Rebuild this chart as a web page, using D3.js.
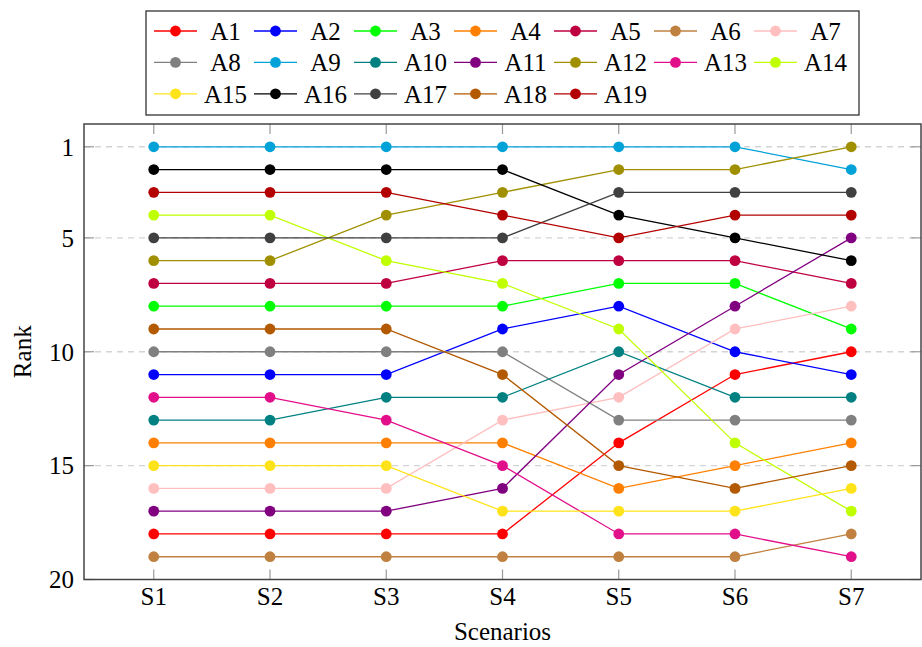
<!DOCTYPE html>
<html>
  <script src="https://d3js.org/d3.v7.min.js" type="text/JavaScript"></script>
  <style>
    body { margin: 0; background: #fff; }
  </style>
  <body>
    <svg></svg>
    <script>
var scenarios = ['S1', 'S2', 'S3', 'S4', 'S5', 'S6', 'S7'];
var names = ['A1', 'A2', 'A3', 'A4', 'A5', 'A6', 'A7', 'A8', 'A9', 'A10',
  'A11', 'A12', 'A13', 'A14', 'A15', 'A16', 'A17', 'A18', 'A19'];
// rank of each series in S1..S7
var ranks = [
  [18, 18, 18, 18, 14, 11, 10],
  [11, 11, 11, 9, 8, 10, 11],
  [8, 8, 8, 8, 7, 7, 9],
  [14, 14, 14, 14, 16, 15, 14],
  [7, 7, 7, 6, 6, 6, 7],
  [19, 19, 19, 19, 19, 19, 18],
  [16, 16, 16, 13, 12, 9, 8],
  [10, 10, 10, 10, 13, 13, 13],
  [1, 1, 1, 1, 1, 1, 2],
  [13, 13, 12, 12, 10, 12, 12],
  [17, 17, 17, 16, 11, 8, 5],
  [6, 6, 4, 3, 2, 2, 1],
  [12, 12, 13, 15, 18, 18, 19],
  [4, 4, 6, 7, 9, 14, 17],
  [15, 15, 15, 17, 17, 17, 16],
  [2, 2, 2, 2, 4, 5, 6],
  [5, 5, 5, 5, 3, 3, 3],
  [9, 9, 9, 11, 15, 16, 15],
  [3, 3, 3, 4, 5, 4, 4]
];
var yTicks = [1, 5, 10, 15, 20];

var colors = ['#ff0000', '#0000ff', '#00ff00', '#ff8000', '#bf0040', '#bf8040', '#ffbfbf',
  '#808080', '#00a2d8', '#008080', '#800080', '#a09000', '#e20f8a', '#bfff00',
  '#ffe31a', '#000000', '#404040', '#b35900', '#b30000'];

var W = 922, H = 647;
// plot box (note: "top" is reserved on window, so use pTop etc.)
var pLeft = 84, pRight = 921, pTop = 124, pBottom = 579.5;

var svg = d3.select('svg')
  .attr('width', W).attr('height', H)
  .attr('font-family', "'Liberation Serif', 'Times New Roman', serif");

var x = d3.scalePoint().domain(scenarios).range([pLeft, pRight]).padding(0.6);
var y = d3.scaleLinear().domain([0, 20]).range([pTop, pBottom]);

// grid
svg.append('g')
  .selectAll('line')
  .data(yTicks.filter(d => d < 20))
  .enter()
  .append('line')
    .attr('x1', pLeft).attr('x2', pRight)
    .attr('y1', d => y(d)).attr('y2', d => y(d))
    .style('stroke', '#d4d4d4')
    .style('stroke-width', 1.4)
    .style('stroke-dasharray', '6,5');

// inner ticks
var tickG = svg.append('g').style('stroke', '#9a9a9a').style('stroke-width', 1.2);
scenarios.forEach(s => {
  tickG.append('line').attr('x1', x(s)).attr('x2', x(s)).attr('y1', pTop).attr('y2', pTop + 10);
  tickG.append('line').attr('x1', x(s)).attr('x2', x(s)).attr('y1', pBottom).attr('y2', pBottom - 10);
});
yTicks.forEach(t => {
  tickG.append('line').attr('x1', pLeft).attr('x2', pLeft + 10).attr('y1', y(t)).attr('y2', y(t));
  tickG.append('line').attr('x1', pRight).attr('x2', pRight - 10).attr('y1', y(t)).attr('y2', y(t));
});

// series
var line = d3.line().x((d, i) => x(scenarios[i])).y(d => y(d));

var series = svg.append('g')
  .selectAll('g')
  .data(ranks)
  .enter()
  .append('g');

series.append('path')
  .attr('d', d => line(d))
  .style('fill', 'none')
  .style('stroke', (d, i) => colors[i])
  .style('stroke-width', 1.3);

series.each(function(d, i) {
  d3.select(this).selectAll('circle')
    .data(d)
    .enter()
    .append('circle')
      .attr('cx', (v, j) => x(scenarios[j]))
      .attr('cy', v => y(v))
      .attr('r', 5.4)
      .style('fill', colors[i]);
});

// frame
svg.append('rect')
  .attr('x', pLeft).attr('y', pTop)
  .attr('width', pRight - pLeft).attr('height', pBottom - pTop)
  .style('fill', 'none')
  .style('stroke', '#444')
  .style('stroke-width', 1.5);

// axis labels
var fs = 25;
svg.append('g')
  .selectAll('text')
  .data(yTicks)
  .enter()
  .append('text')
    .attr('x', pLeft - 10)
    .attr('y', d => y(d))
    .attr('dy', '0.35em')
    .attr('text-anchor', 'end')
    .style('font-size', fs + 'px')
    .text(d => d);

svg.append('g')
  .selectAll('text')
  .data(scenarios)
  .enter()
  .append('text')
    .attr('x', d => x(d))
    .attr('y', 605)
    .attr('text-anchor', 'middle')
    .style('font-size', fs + 'px')
    .text(d => d);

svg.append('text')
  .attr('x', (pLeft + pRight) / 2)
  .attr('y', 640)
  .attr('text-anchor', 'middle')
  .style('font-size', fs + 'px')
  .text('Scenarios');

svg.append('text')
  .attr('transform', `translate(31, ${(pTop + pBottom) / 2}) rotate(-90)`)
  .attr('text-anchor', 'middle')
  .style('font-size', fs + 'px')
  .text('Rank');

// legend
svg.append('rect')
  .attr('x', 146).attr('y', 11)
  .attr('width', 713).attr('height', 104)
  .style('fill', '#fff')
  .style('stroke', '#333')
  .style('stroke-width', 1.3);

var leg = svg.append('g')
  .selectAll('g')
  .data(names)
  .enter()
  .append('g')
    .attr('transform', (d, i) => `translate(${154 + 100 * (i % 7)}, ${31 + 31.4 * Math.floor(i / 7)})`);

leg.append('line')
  .attr('x1', 0).attr('x2', 43)
  .style('stroke', (d, i) => colors[i])
  .style('stroke-width', 1.3);

leg.append('circle')
  .attr('cx', 21.5)
  .attr('r', 5.4)
  .style('fill', (d, i) => colors[i]);

leg.append('text')
  .attr('x', 71.5)
  .attr('dy', '0.35em')
  .attr('text-anchor', 'middle')
  .style('font-size', fs + 'px')
  .text(d => d);
    </script>
  </body>
</html>
